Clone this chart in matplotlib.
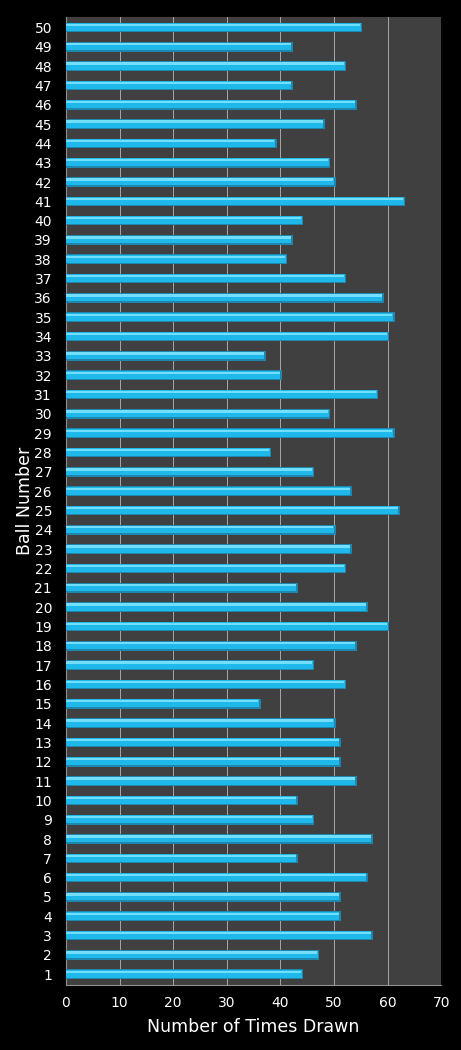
import matplotlib
matplotlib.use('Agg')
import matplotlib.pyplot as plt
import numpy as np

# ball numbers and how often each one was drawn
balls = list(range(1, 51))
times_drawn = [44, 47, 57, 51, 51, 56, 43, 57, 46, 43,
               54, 51, 51, 50, 36, 52, 46, 54, 60, 56,
               43, 52, 53, 50, 62, 53, 46, 38, 61, 49,
               58, 40, 37, 60, 61, 59, 52, 41, 42, 44,
               63, 50, 49, 39, 48, 54, 42, 52, 42, 55]
x_ticks = [0, 10, 20, 30, 40, 50, 60, 70]

fig = plt.figure(figsize=(4.61, 10.5), dpi=100, facecolor='black')
ax = fig.add_axes([0.143, 0.062, 0.814, 0.922])
ax.set_facecolor('#404040')

y = np.array(balls)
vals = np.array(times_drawn)

# fake 3d look: dark base, main body, light strip on top
ax.barh(y, vals + 0.3, height=0.5, color='#1f86ad', edgecolor='none', zorder=3)
ax.barh(y + 0.02, vals, height=0.4, color='#1eb9ea', edgecolor='none', zorder=4)
ax.barh(y + 0.13, vals - 0.1, height=0.12, color='#72def9', edgecolor='none', zorder=5)

ax.set_xlim(0, 70)
ax.set_ylim(0.45, 50.55)
ax.set_xticks(x_ticks)
ax.set_yticks(balls)
ax.set_yticklabels([str(b) for b in balls])

ax.grid(axis='x', color='#a8a8a8', linewidth=0.7, zorder=1)
ax.set_axisbelow(True)

for side in ['top', 'right']:
    ax.spines[side].set_visible(False)
for side in ['left', 'bottom']:
    ax.spines[side].set_color('#909090')

ax.tick_params(axis='both', colors='white', length=0, labelsize=10)
ax.tick_params(axis='x', pad=8)
ax.tick_params(axis='y', pad=10)

ax.set_xlabel('Number of Times Drawn', color='white', fontsize=12.5, labelpad=6)
ax.set_ylabel('Ball Number', color='white', fontsize=12.5, labelpad=0)

fig.savefig('out.png', dpi=100, facecolor='black')
